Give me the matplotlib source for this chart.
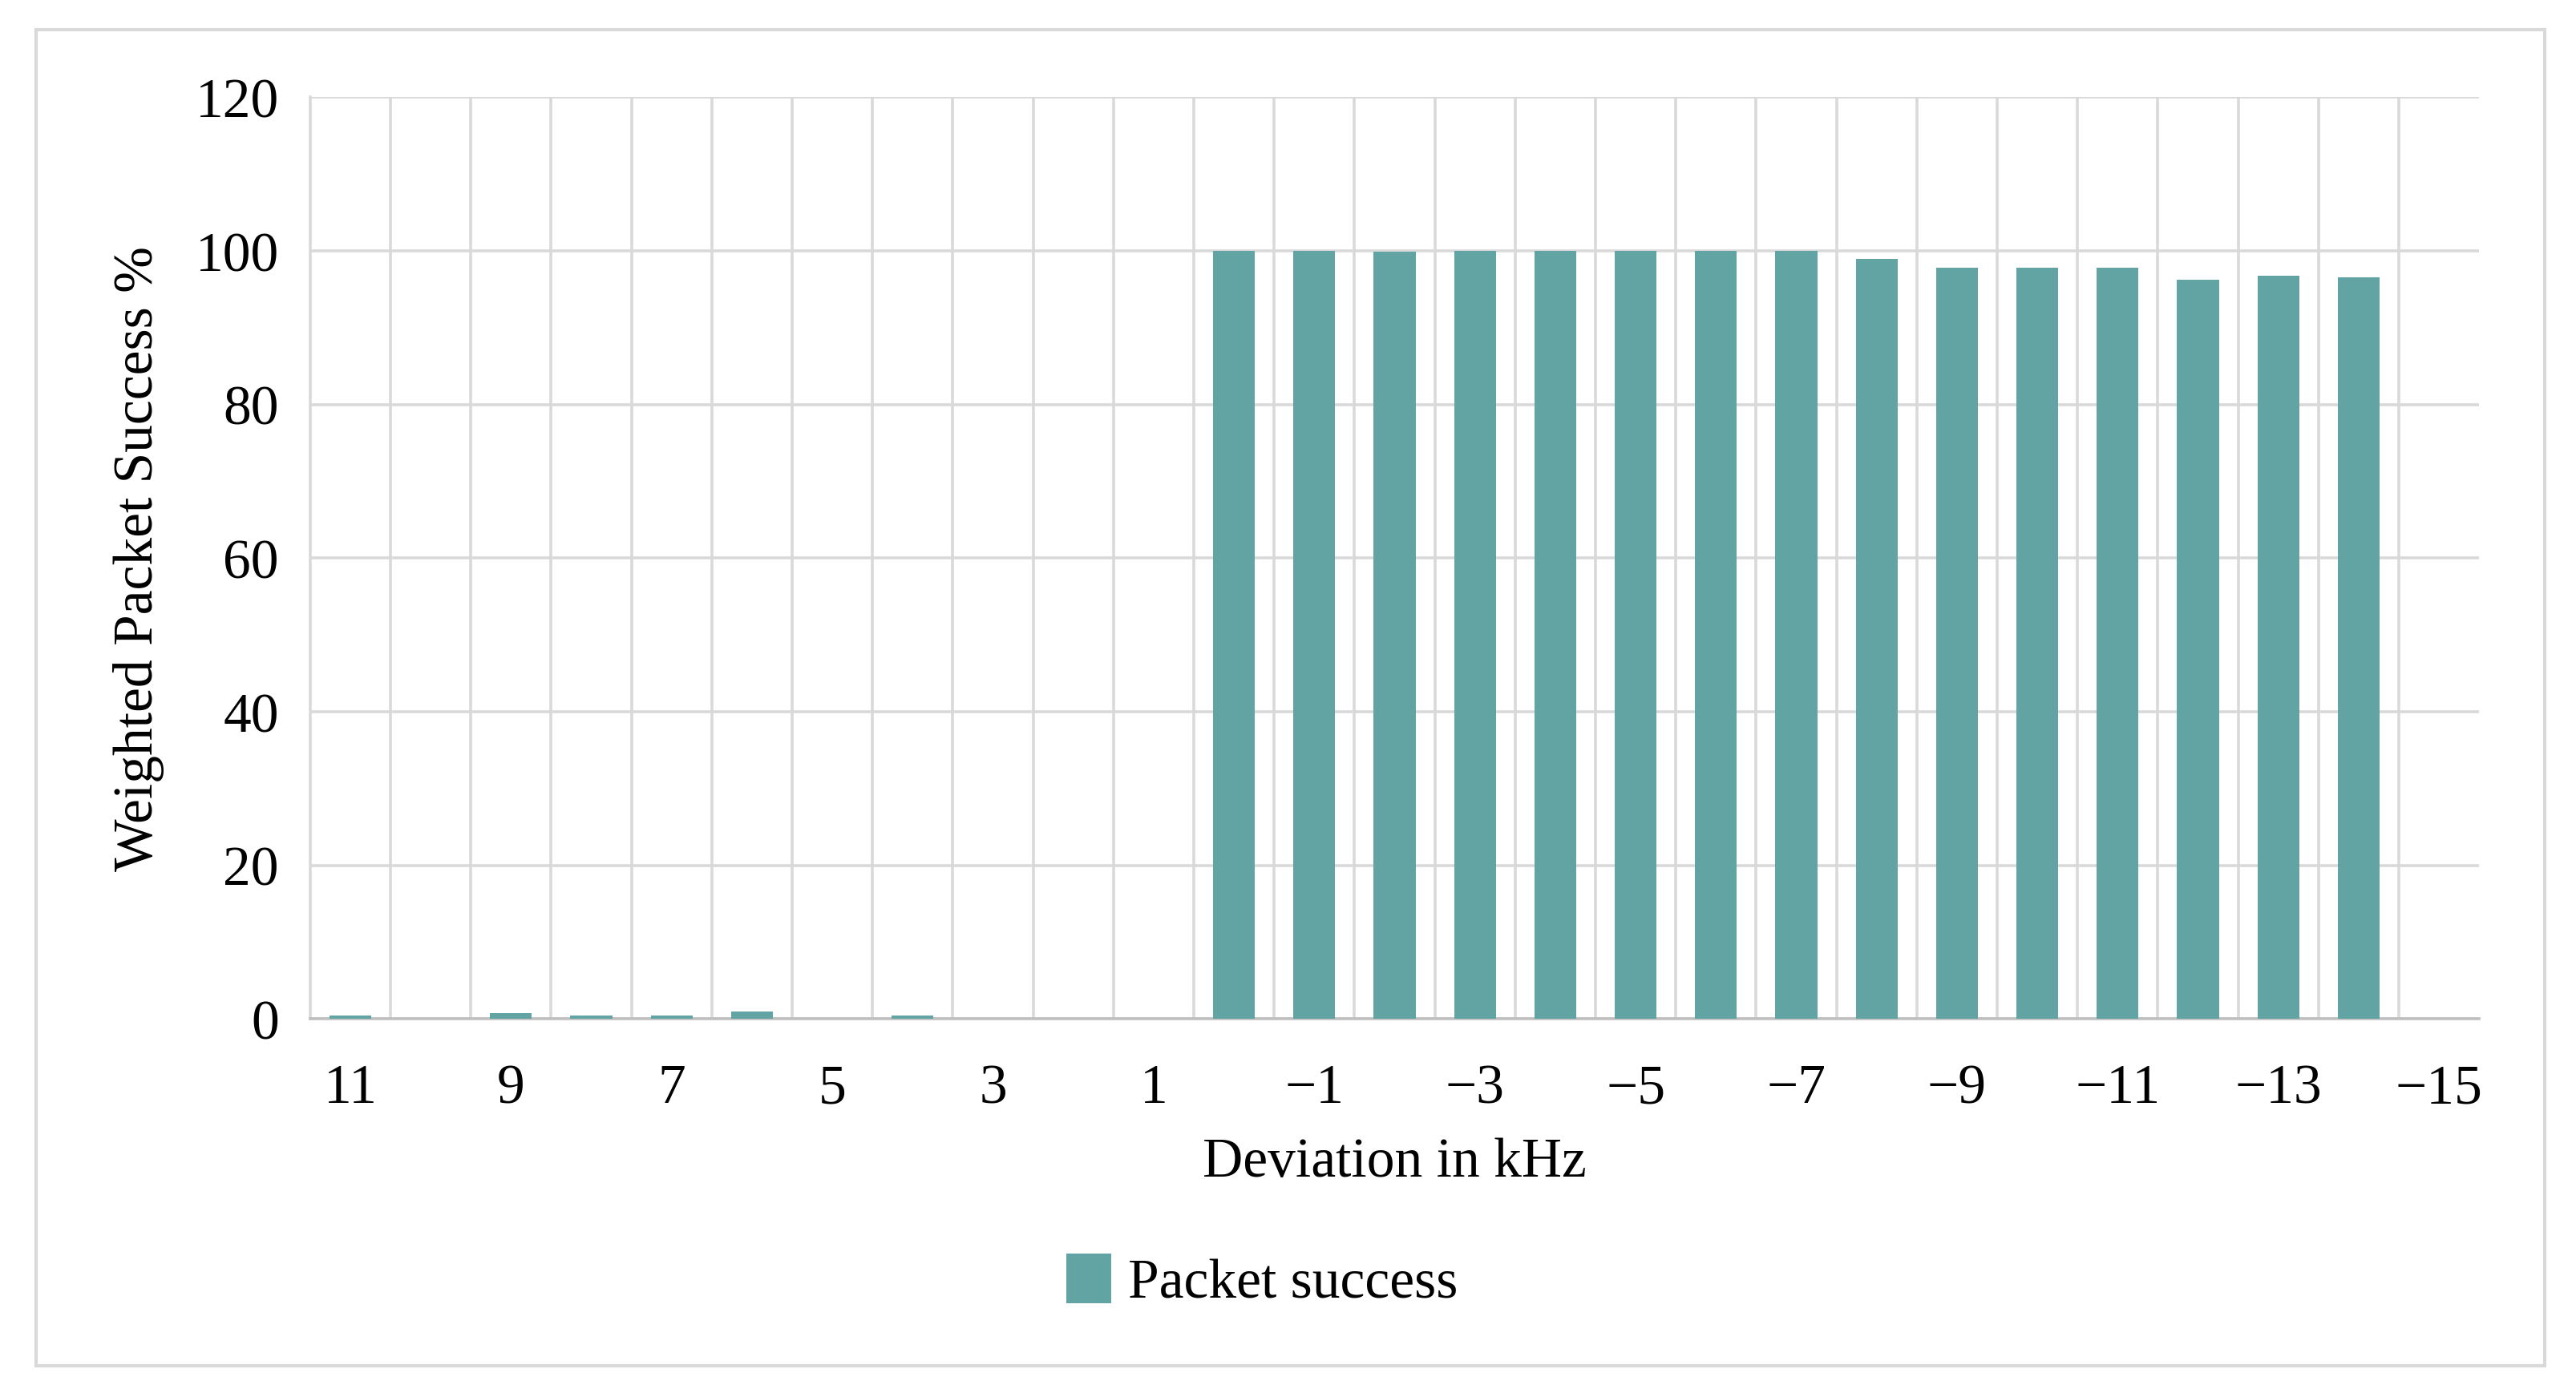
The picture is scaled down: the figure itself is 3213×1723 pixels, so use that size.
import matplotlib
matplotlib.use("Agg")
import matplotlib.pyplot as plt
from matplotlib.patches import Rectangle

categories = list(range(11, -16, -1))
values = [0.5, 0, 0.8, 0.5, 0.5, 1.0, 0, 0.5, 0, 0, 0,
          100, 100, 99.9, 100, 100, 100, 100, 100, 99.0, 97.8, 97.8, 97.8,
          96.3, 96.8, 96.6, 0]
yticks = [0, 20, 40, 60, 80, 100, 120]

plt.rcParams['font.family'] = ['Liberation Serif', 'DejaVu Serif']
fig = plt.figure(figsize=(16.065, 8.62), dpi=200)
fig.patches.append(Rectangle((0.014, 0.011), 0.974, 0.967, transform=fig.transFigure,
                             fill=False, edgecolor='#d9d9d9', linewidth=1.5))
ax = fig.add_axes([0.1204, 0.262, 0.842, 0.667])
color = '#62A3A3'
x = list(range(len(categories)))
ax.bar(x, values, width=0.52, color=color, zorder=3, label='Packet success')
ax.set_xlim(-0.5, len(categories) - 0.5)
ax.set_ylim(0, 120)
ax.set_yticks(yticks)
ax.set_xticks(x[::2])
ax.set_xticklabels([str(c).replace('-', '\u2212') for c in categories[::2]])
for b in [i - 0.5 for i in range(1, len(categories))]:
    ax.axvline(b, color='#d9d9d9', lw=1.3, zorder=1)
ax.grid(axis='y', color='#d9d9d9', lw=1.3, zorder=1)
for s in ['top', 'right']:
    ax.spines[s].set_visible(False)
ax.spines['left'].set_color('#d9d9d9')
ax.spines['bottom'].set_color('#bfbfbf')
ax.spines['left'].set_linewidth(1.3)
ax.spines['bottom'].set_linewidth(1.3)
ax.tick_params(length=0, labelsize=25, pad=14)
ax.tick_params(axis='x', pad=20)
ax.set_xlabel('Deviation in kHz', fontsize=25, labelpad=10)
ax.set_ylabel('Weighted Packet Success %', fontsize=25, labelpad=14)
fig.legend(loc='center', bbox_to_anchor=(0.49, 0.072), frameon=False, fontsize=25,
           handlelength=0.8, handleheight=1.0, handletextpad=0.3)
fig.savefig('out.png', dpi=200)
